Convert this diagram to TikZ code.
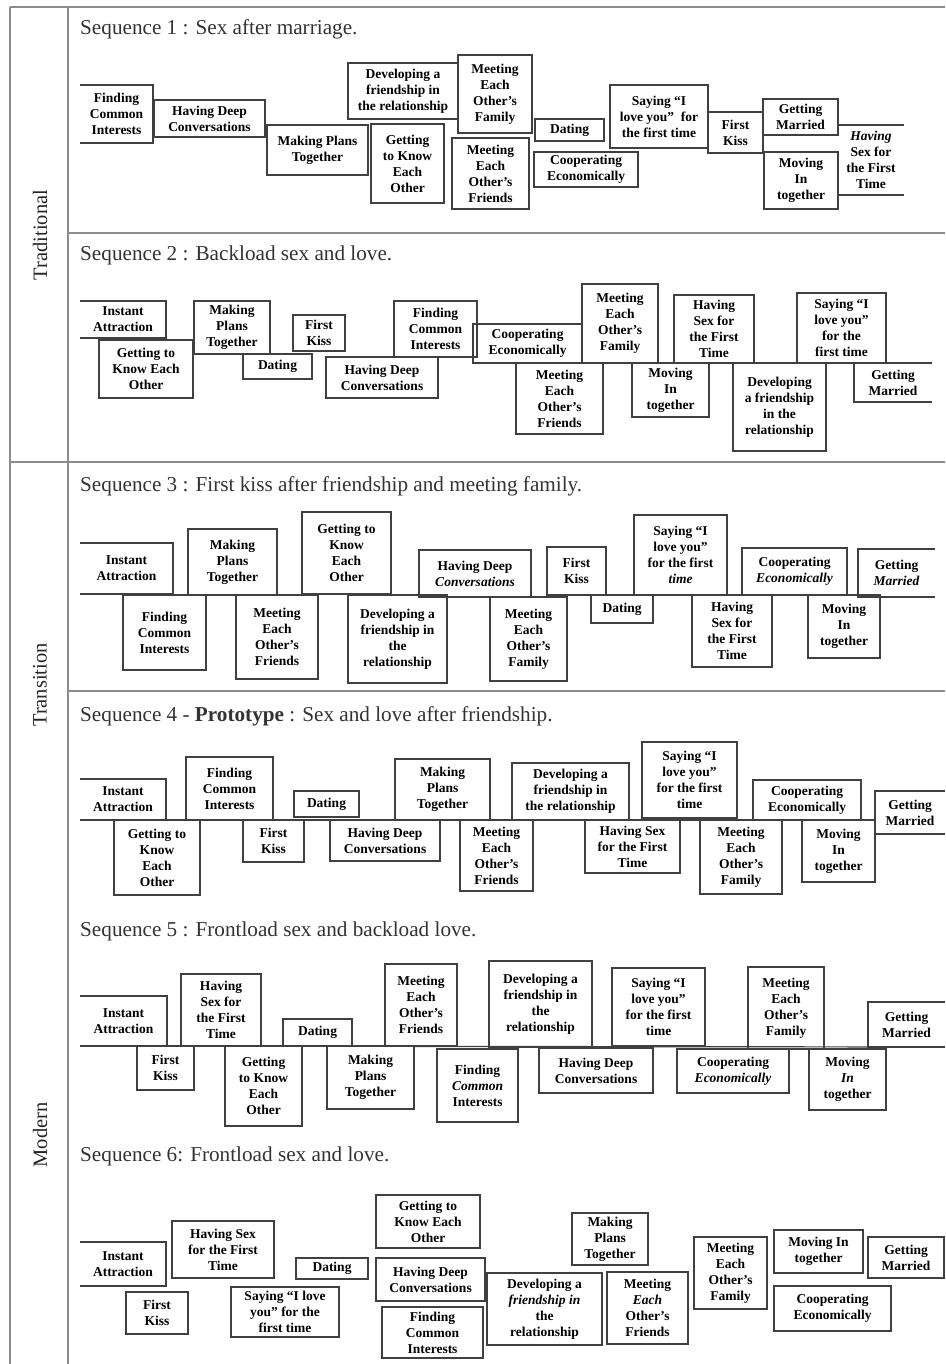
\documentclass[tikz,border=0pt]{standalone}
\usepackage{fontspec}
\setmainfont{Liberation Serif}
\tikzset{
  frameline/.style={draw=black!45, line width=1.4pt},
  boxline/.style={draw=black!75, line width=1.2pt},
  boxtext/.style={font=\fontsize{13.5}{16}\selectfont\bfseries, align=center, inner sep=0pt, outer sep=0pt, text=black},
  seqtitle/.style={font=\fontsize{21.2}{25}\selectfont, anchor=west, inner sep=0pt, text=black!80},
  sidelabel/.style={font=\fontsize{20.5}{24}\selectfont, rotate=90, inner sep=0pt, text=black!85},
}
\newcommand{\mkbox}[7][boxline]{%
  \pgfmathsetmacro\mybw{#5-#3}\pgfmathsetmacro\mybh{#6-#4}%
  \pgfmathsetmacro\mycx{(#3+#5)/2}\pgfmathsetmacro\mycy{(#4+#6)/2}%
  \node[boxtext, minimum width=\mybw pt, minimum height=\mybh pt, #1] (#2) at (\mycx,\mycy) {#7};}
\newcommand{\openleft}[1]{\draw[boxline] (#1.north west) -- (#1.north east) -- (#1.south east) -- (#1.south west);}
\newcommand{\openright}[1]{\draw[boxline] (#1.north east) -- (#1.north west) -- (#1.south west) -- (#1.south east);}
\begin{document}
\begin{tikzpicture}[x=1pt,y=-1pt]
\fill[white] (0,0) rectangle (945,1364);
\useasboundingbox (0,0) rectangle (945,1364);
% frame
\draw[frameline] (10,7) -- (945,7);
\draw[frameline] (10,7) -- (10,1364);
\draw[frameline] (68,7) -- (68,1364);
\draw[frameline] (68,233) -- (945,233);
\draw[frameline] (10,462) -- (945,462);
\draw[frameline] (68,691) -- (945,691);
% side labels
\node[sidelabel] (l1) at (40,235) {Traditional};
\node[sidelabel] (l2) at (40,685) {Transition};
\node[sidelabel] (l3) at (40,1135) {Modern};
% titles
\node[seqtitle] (t1) at (80,29) {Sequence 1 : Sex after marriage.};
\node[seqtitle] (t2) at (80,255) {Sequence 2 : Backload sex and love.};
\node[seqtitle] (t3) at (80,486) {Sequence 3 : First kiss after friendship and meeting family.};
\node[seqtitle] (t4) at (80,716) {Sequence 4 - \textbf{Prototype} : Sex and love after friendship.};
\node[seqtitle] (t5) at (80,931) {Sequence 5 : Frontload sex and backload love.};
\node[seqtitle] (t6) at (80,1156) {Sequence 6: Frontload sex and love.};
% ---------- Sequence 1
\mkbox[]{s1a}{80}{85}{153}{143}{Finding\\Common\\Interests}\openleft{s1a}
\mkbox{s1b}{154}{100}{265}{137}{Having Deep\\Conversations}
\mkbox{s1c}{267}{125}{368}{175}{Making Plans\\Together}
\mkbox{s1d}{348}{63}{458}{119}{Developing a\\friendship in\\the relationship}
\mkbox{s1e}{371}{124}{444}{203}{Getting\\to Know\\Each\\Other}
\mkbox{s1f}{458}{55}{532}{133}{Meeting\\Each\\Other’s\\Family}
\mkbox{s1g}{452}{138}{529}{209}{Meeting\\Each\\Other’s\\Friends}
\mkbox{s1h}{535}{119}{604}{141}{Dating}
\mkbox{s1i}{534}{152}{638}{187}{Cooperating\\Economically}
\mkbox{s1j}{610}{85}{708}{148}{Saying “I\\love you”\ \ for\\the first time}
\mkbox{s1k}{708}{112}{763}{153}{First\\Kiss}
\mkbox{s1l}{763}{99}{838}{135}{Getting\\Married}
\mkbox{s1m}{764}{152}{838}{209}{Moving\\In\\together}
\mkbox[]{s1n}{838}{125}{904}{195}{\textit{Having}\\Sex for\\the First\\Time}
\draw[boxline] (s1n.north west) -- (s1n.north east);
\draw[boxline] (s1n.south west) -- (s1n.south east);
% ---------- Sequence 2
\mkbox[]{s2a}{80}{301}{166}{338}{Instant\\Attraction}\openleft{s2a}
\mkbox{s2b}{99}{340}{193}{398}{Getting to\\Know Each\\Other}
\mkbox{s2c}{194}{301}{270}{354}{Making\\Plans\\Together}
\mkbox{s2d}{243}{354}{312}{379}{Dating}
\mkbox{s2e}{293}{315}{345}{351}{First\\Kiss}
\mkbox{s2f}{326}{357}{438}{398}{Having Deep\\Conversations}
\mkbox{s2g}{394}{301}{477}{357}{Finding\\Common\\Interests}
\mkbox{s2h}{473}{324}{582}{363}{Cooperating\\Economically}
\mkbox{s2i}{582}{284}{658}{363}{Meeting\\Each\\Other’s\\Family}
\mkbox{s2j}{516}{363}{603}{434}{Meeting\\Each\\Other’s\\Friends}
\mkbox{s2k}{674}{295}{754}{363}{Having\\Sex for\\the First\\Time}
\mkbox{s2l}{632}{363}{709}{417}{Moving\\In\\together}
\mkbox{s2m}{733}{363}{826}{451}{Developing\\a friendship\\in the\\relationship}
\mkbox{s2n}{797}{293}{886}{363}{Saying “I\\love you”\\for the\\first time}
\mkbox[]{s2o}{854}{363}{932}{402}{Getting\\Married}\openright{s2o}
\draw[boxline] (s2h.south west) -- (s2o.north east);
% ---------- Sequence 3
\mkbox[]{s3a}{80}{543}{173}{594}{Instant\\Attraction}\openleft{s3a}
\mkbox{s3b}{188}{529}{277}{595}{Making\\Plans\\Together}
\mkbox{s3c}{123}{595}{206}{670}{Finding\\Common\\Interests}
\mkbox{s3d}{236}{595}{318}{679}{Meeting\\Each\\Other’s\\Friends}
\mkbox{s3e}{302}{512}{391}{594}{Getting to\\Know\\Each\\Other}
\mkbox{s3f}{348}{595}{447}{683}{Developing a\\friendship in\\the\\relationship}
\mkbox{s3g}{419}{550}{531}{597}{Having Deep\\\textit{Conversations}}
\mkbox{s3h}{490}{597}{567}{681}{Meeting\\Each\\Other’s\\Family}
\mkbox{s3i}{547}{547}{606}{595}{First\\Kiss}
\mkbox{s3j}{591}{595}{653}{623}{Dating}
\mkbox{s3k}{634}{515}{727}{595}{Saying “I\\love you”\\for the first\\\textit{time}}
\mkbox{s3l}{692}{595}{772}{667}{Having\\Sex for\\the First\\Time}
\mkbox{s3m}{742}{548}{847}{595}{Cooperating\\\textit{Economically}}
\mkbox{s3n}{808}{595}{880}{658}{Moving\\In\\together}
\mkbox[]{s3o}{858}{549}{935}{597}{Getting\\\textit{Married}}\openright{s3o}
% ---------- Sequence 4
\mkbox[]{s4a}{80}{779}{166}{820}{Instant\\Attraction}\openleft{s4a}
\mkbox{s4b}{114}{820}{200}{895}{Getting to\\Know\\Each\\Other}
\mkbox{s4c}{186}{757}{273}{820}{Finding\\Common\\Interests}
\mkbox{s4d}{243}{820}{304}{862}{First\\Kiss}
\mkbox{s4e}{294}{791}{359}{817}{Dating}
\mkbox{s4f}{330}{820}{440}{861}{Having Deep\\Conversations}
\mkbox{s4g}{395}{759}{490}{820}{Making\\Plans\\Together}
\mkbox{s4h}{460}{820}{533}{891}{Meeting\\Each\\Other’s\\Friends}
\mkbox{s4i}{512}{763}{629}{820}{Developing a\\friendship in\\the relationship}
\mkbox{s4j}{585}{820}{680}{873}{Having Sex\\for the First\\Time}
\mkbox{s4k}{642}{742}{737}{818}{Saying “I\\love you”\\for the first\\time}
\mkbox{s4l}{700}{820}{782}{894}{Meeting\\Each\\Other’s\\Family}
\mkbox{s4m}{753}{780}{861}{820}{Cooperating\\Economically}
\mkbox{s4n}{802}{820}{875}{882}{Moving\\In\\together}
\mkbox[]{s4o}{875}{791}{945}{834}{Getting\\Married}\openright{s4o}
\draw[boxline] (s4a.south west) -- (s4n.north east);
% ---------- Sequence 5
\mkbox[]{s5a}{80}{996}{167}{1046}{Instant\\Attraction}\openleft{s5a}
\mkbox{s5b}{137}{1046}{194}{1090}{First\\Kiss}
\mkbox{s5c}{181}{974}{261}{1046}{Having\\Sex for\\the First\\Time}
\mkbox{s5d}{225}{1046}{302}{1126}{Getting\\to Know\\Each\\Other}
\mkbox{s5e}{283}{1019}{352}{1046}{Dating}
\mkbox{s5f}{327}{1046}{414}{1109}{Making\\Plans\\Together}
\mkbox{s5g}{385}{964}{457}{1046}{Meeting\\Each\\Other’s\\Friends}
\mkbox{s5h}{437}{1049}{518}{1122}{Finding\\\textit{Common}\\Interests}
\mkbox{s5i}{489}{961}{592}{1047}{Developing a\\friendship in\\the\\relationship}
\mkbox{s5j}{539}{1048}{653}{1093}{Having Deep\\Conversations}
\mkbox{s5k}{612}{968}{705}{1046}{Saying “I\\love you”\\for the first\\time}
\mkbox{s5l}{677}{1049}{789}{1093}{Cooperating\\\textit{Economically}}
\mkbox{s5m}{748}{967}{824}{1049}{Meeting\\Each\\Other’s\\Family}
\mkbox{s5n}{809}{1049}{886}{1110}{Moving\\\textit{In}\\together}
\mkbox[]{s5o}{868}{1002}{945}{1047}{Getting\\Married}\openright{s5o}
\draw[boxline] (s5a.south west) -- (s5o.south east);
% ---------- Sequence 6
\mkbox[]{s6a}{80}{1242}{166}{1286}{Instant\\Attraction}\openleft{s6a}
\mkbox{s6b}{172}{1221}{274}{1278}{Having Sex\\for the First\\Time}
\mkbox{s6c}{126}{1292}{188}{1334}{First\\Kiss}
\mkbox{s6d}{296}{1258}{368}{1279}{Dating}
\mkbox{s6e}{231}{1287}{339}{1337}{Saying “I love\\you” for the\\first time}
\mkbox{s6f}{376}{1195}{480}{1248}{Getting to\\Know Each\\Other}
\mkbox{s6g}{376}{1258}{485}{1301}{Having Deep\\Conversations}
\mkbox{s6h}{382}{1307}{483}{1358}{Finding\\Common\\Interests}
\mkbox{s6i}{487}{1273}{602}{1345}{Developing a\\\textit{friendship in}\\the\\relationship}
\mkbox{s6j}{572}{1213}{648}{1265}{Making\\Plans\\Together}
\mkbox{s6k}{607}{1272}{688}{1344}{Meeting\\\textit{Each}\\Other’s\\Friends}
\mkbox{s6l}{694}{1237}{767}{1309}{Meeting\\Each\\Other’s\\Family}
\mkbox{s6m}{774}{1230}{863}{1273}{Moving In\\together}
\mkbox{s6n}{868}{1237}{944}{1278}{Getting\\Married}
\mkbox{s6o}{774}{1286}{891}{1331}{Cooperating\\Economically}
\end{tikzpicture}
\end{document}
